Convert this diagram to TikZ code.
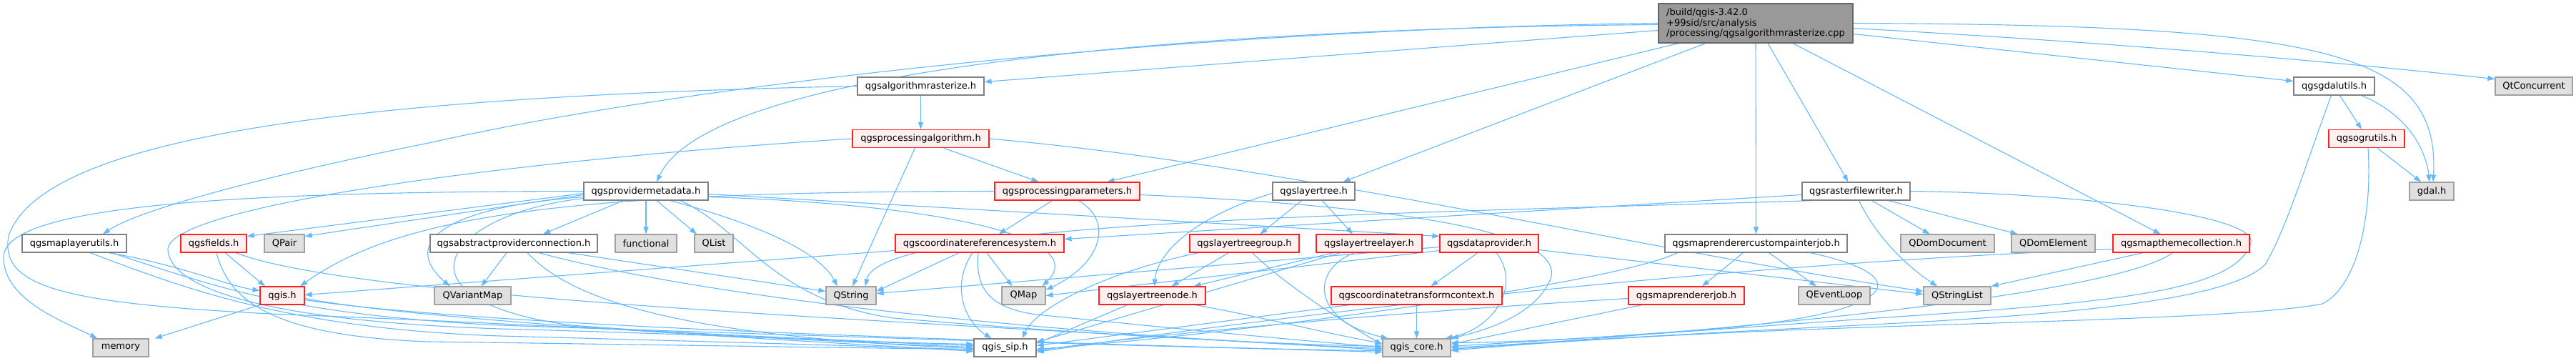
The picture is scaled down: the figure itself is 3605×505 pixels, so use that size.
\documentclass[tikz,border=0pt]{standalone}
\usepackage{fontspec}
\setmainfont{DejaVu Sans}
\usetikzlibrary{arrows.meta}
\definecolor{edgec}{HTML}{63B8FF}
\definecolor{rootfill}{HTML}{999999}
\definecolor{rootdraw}{HTML}{666666}
\definecolor{wdraw}{HTML}{808080}
\definecolor{rfill}{HTML}{FFF0F0}
\definecolor{rdraw}{HTML}{FF2020}
\definecolor{gfill}{HTML}{E0E0E0}
\definecolor{gdraw}{HTML}{A0A0A0}
\pgfdeclarelayer{bg}
\pgfsetlayers{bg,main}
\newcommand\nodefont{\fontsize{13}{14.5}\selectfont}
\tikzset{
  nd/.style={draw, rectangle, inner sep=0pt, minimum height=25pt, font=\nodefont, line width=1.2pt},
  wbox/.style={nd, draw=wdraw, fill=white},
  rbox/.style={nd, draw=rdraw, fill=rfill},
  gbox/.style={nd, draw=gdraw, fill=gfill},
  rootbox/.style={nd, draw=rootdraw, fill=rootfill, minimum height=55pt, align=left},
  edge/.style={draw=edgec, line width=1.1pt, -{Triangle[length=10pt,width=7pt]}}
}
\begin{document}
\begin{tikzpicture}[x=1pt,y=-1pt]
\useasboundingbox (0,0) rectangle (3605,505);
% row 0
\node[rootbox, minimum width=272pt] (R) at (2457,32.5) {/build/qgis-3.42.0\\+99sid/src/analysis\\/processing/qgsalgorithmrasterize.cpp};
% row 1
\node[wbox, minimum width=177pt] (alg) at (1288.5,120.5) {qgsalgorithmrasterize.h};
\node[wbox, minimum width=113pt] (gdu) at (3266.5,120.5) {qgsgdalutils.h};
\node[gbox, minimum width=108pt] (qtc) at (3546,120.5) {QtConcurrent};
% row 2
\node[rbox, minimum width=191pt] (pa) at (1288.5,194) {qgsprocessingalgorithm.h};
\node[rbox, minimum width=106pt] (ogr) at (3312,194) {qgsogrutils.h};
% row 3
\node[wbox, minimum width=174pt] (pm) at (904,267.5) {qgsprovidermetadata.h};
\node[rbox, minimum width=203pt] (pp) at (1493.5,267.5) {qgsprocessingparameters.h};
\node[wbox, minimum width=115pt] (lt) at (1838.5,267.5) {qgslayertree.h};
\node[wbox, minimum width=151pt] (rfw) at (2597.5,267.5) {qgsrasterfilewriter.h};
\node[gbox, minimum width=62pt] (gdal) at (3403,267.5) {gdal.h};
% row 4
\node[wbox, minimum width=146pt] (mlu) at (104,340.5) {qgsmaplayerutils.h};
\node[rbox, minimum width=92pt] (fld) at (299,340.5) {qgsfields.h};
\node[gbox, minimum width=56pt] (qpair) at (398,340.5) {QPair};
\node[wbox, minimum width=234pt] (apc) at (719,340.5) {qgsabstractproviderconnection.h};
\node[gbox, minimum width=86pt] (fun) at (904,340.5) {functional};
\node[gbox, minimum width=54pt] (qlist) at (999,340.5) {QList};
\node[rbox, minimum width=236pt] (crs) at (1371,340.5) {qgscoordinatereferencesystem.h};
\node[rbox, minimum width=153pt] (ltg) at (1741.5,340.5) {qgslayertreegroup.h};
\node[rbox, minimum width=148pt] (ltl) at (1916,340.5) {qgslayertreelayer.h};
\node[rbox, minimum width=138pt] (dp) at (2084,340.5) {qgsdataprovider.h};
\node[wbox, minimum width=255pt] (cpj) at (2457.5,340.5) {qgsmaprenderercustompainterjob.h};
\node[gbox, minimum width=131pt] (qdd) at (2725.5,340.5) {QDomDocument};
\node[gbox, minimum width=117pt] (qde) at (2873.5,340.5) {QDomElement};
\node[rbox, minimum width=191pt] (mtc) at (3052.5,340.5) {qgsmapthemecollection.h};
% row 5
\node[rbox, minimum width=62pt] (qgis) at (395,413.5) {qgis.h};
\node[gbox, minimum width=107pt] (qvm) at (661.5,413.5) {QVariantMap};
\node[gbox, minimum width=70pt] (qstr) at (1191,413.5) {QString};
\node[gbox, minimum width=61pt] (qmap) at (1432.5,413.5) {QMap};
\node[rbox, minimum width=149pt] (ltn) at (1612.5,413.5) {qgslayertreenode.h};
\node[rbox, minimum width=239pt] (ctc) at (1982.5,413.5) {qgscoordinatetransformcontext.h};
\node[rbox, minimum width=162pt] (mrj) at (2360,413.5) {qgsmaprendererjob.h};
\node[gbox, minimum width=100pt] (qel) at (2567,413.5) {QEventLoop};
\node[gbox, minimum width=94pt] (qsl) at (2739,413.5) {QStringList};
% row 6
\node[gbox, minimum width=78pt] (mem) at (169,486.5) {memory};
\node[wbox, minimum width=87pt] (sip) at (1406.5,486.5) {qgis\_sip.h};
\node[gbox, minimum width=95pt] (core) at (1982.5,486.5) {qgis\_core.h};

\begin{pgfonlayer}{bg}
% root
\draw[edge] ([yshift=-10pt]R.west) -- ([yshift=6pt]alg.east);
\draw[edge] ([yshift=-2pt]R.west) .. controls (1800,38) and (1000,80) .. ([xshift=15pt]pm.north);
\draw[edge] (R.west) .. controls (1700,40) and (1000,110) .. (600,200) .. controls (400,240) and (200,290) .. ([xshift=40pt]mlu.north);
\draw[edge] ([xshift=-108pt]R.south) -- ([xshift=56pt]pp.north);
\draw[edge] ([xshift=-70pt]R.south) -- ([xshift=41pt]lt.north);
\draw[edge] (R.south) -- (cpj.north);
\draw[edge] ([xshift=17pt]R.south) -- ([xshift=-11pt]rfw.north);
\draw[edge] ([xshift=52pt]R.south) -- ([xshift=-29pt]mtc.north);
\draw[edge] ([yshift=-15pt]R.east) -- ([yshift=7pt]gdu.west);
\draw[edge] ([yshift=-7pt]R.east) .. controls (3000,62) and (3300,90) .. ([yshift=10pt]qtc.west);
\draw[edge] (R.east) .. controls (3250,35) and (3415,70) .. ([xshift=2pt]gdal.north);
% alg
\draw[edge] (alg.south) -- (pa.north);
\draw[edge] (alg.west) .. controls (500,135) and (60,190) .. (12,330) .. controls (0,400) and (80,425) .. (400,440) .. controls (800,455) and (1150,478) .. ([yshift=5pt]sip.west);
% processing algorithm
\draw[edge] ([xshift=32pt]pa.south) -- ([xshift=-40pt]pp.north);
\draw[edge] ([xshift=-8pt]pa.south) -- ([xshift=2pt]qstr.north);
\draw[edge] (pa.east) .. controls (1800,230) and (2300,350) .. ([yshift=6pt]qsl.west);
\draw[edge] (pa.west) .. controls (700,225) and (230,290) .. (235,350) .. controls (240,410) and (400,450) .. (700,460) .. controls (1000,468) and (1250,480) .. ([yshift=3pt]sip.west);
% provider metadata
\draw[edge] ([xshift=-32pt]pm.south) -- ([xshift=41pt]apc.north);
\draw[edge] (pm.south) -- (fun.north);
\draw[edge] ([xshift=15pt]pm.south) -- ([xshift=-24pt]qlist.north);
\draw[edge] ([xshift=34pt]pm.south) .. controls (1010,300) and (1140,340) .. ([xshift=-19pt]qstr.north);
\draw[edge] ([xshift=48pt]pm.south) .. controls (1040,320) and (1080,420) .. (1250,445) .. controls (1550,470) and (1800,482) .. ([yshift=2pt]core.west);
\draw[edge] ([yshift=-4pt]pm.east) -- ([yshift=10pt]dp.west);
\draw[edge] ([yshift=-8pt]pm.east) .. controls (1300,285) and (1530,330) .. ([xshift=26pt]qmap.north);
\draw[edge] ([yshift=-3pt]pm.west) -- ([yshift=10pt]fld.east);
\draw[edge] ([yshift=-5pt]pm.west) -- ([yshift=10pt]qpair.east);
\draw[edge] (pm.west) .. controls (300,268) and (5,290) .. (5,360) .. controls (5,420) and (90,450) .. ([xshift=-33pt]mem.north);
\draw[edge] ([yshift=-8pt]pm.west) .. controls (620,290) and (560,340) .. ([xshift=-32pt]qvm.north);
\draw[edge] ([yshift=-10pt]pm.west) .. controls (620,300) and (540,420) .. (800,455) .. controls (1000,470) and (1250,482) .. ([yshift=1pt]sip.west);
% abstract provider connection
\draw[edge] ([xshift=-10pt]apc.south) -- ([xshift=12pt]qvm.north);
\draw[edge] ([xshift=76pt]apc.south) -- ([yshift=6pt]qstr.west);
\draw[edge] ([xshift=35pt]apc.south) .. controls (1000,420) and (1500,470) .. ([yshift=-1pt]core.west);
\draw[edge] ([xshift=19pt]apc.south) .. controls (800,420) and (950,470) .. ([yshift=-1pt]sip.west);
% fields
\draw[edge] ([xshift=16pt]fld.south) -- ([xshift=-24pt]qgis.north);
\draw[edge] ([xshift=31pt]fld.south) .. controls (500,420) and (1300,450) .. ([yshift=-3pt]core.west);
\draw[edge] ([xshift=4pt]fld.south) .. controls (320,420) and (380,470) .. (600,478) .. controls (900,482) and (1200,487) .. ([yshift=-2pt]sip.west);
% map layer utils
\draw[edge] ([xshift=48pt]mlu.south) .. controls (250,370) and (320,400) .. ([yshift=7pt]qgis.west);
\draw[edge] ([xshift=22pt]mlu.south) .. controls (250,400) and (400,460) .. (700,470) .. controls (1000,478) and (1250,485) .. ([yshift=-3pt]sip.west);
\draw[edge] ([xshift=52pt]mlu.south) .. controls (300,400) and (400,440) .. (700,455) .. controls (1300,475) and (1700,488) .. ([yshift=-4pt]core.west);
% qgis.h
\draw[edge] (qgis.south west) -- ([xshift=8pt]mem.north east);
\draw[edge] ([yshift=-4pt]qgis.east) .. controls (600,450) and (1100,475) .. ([yshift=-5pt]sip.west);
\draw[edge] ([yshift=-6pt]qgis.east) .. controls (700,460) and (1500,480) .. ([yshift=-6pt]core.west);
% crs
\draw[edge] ([yshift=-10pt]crs.west) -- ([yshift=1pt]qgis.east);
\draw[edge] ([xshift=-29pt]crs.south) -- ([yshift=6pt]qstr.east);
\draw[edge] ([xshift=10pt]crs.south) -- ([xshift=-16pt]qmap.north);
\draw[edge] ([xshift=-10pt]crs.south) .. controls (1330,400) and (1350,450) .. ([xshift=-19pt]sip.north);
\draw[edge] ([xshift=-2pt]crs.south) .. controls (1365,400) and (1380,430) .. (1450,440) .. controls (1600,455) and (1800,475) .. ([yshift=1pt]core.west);
% processing parameters
\draw[edge] ([xshift=-21pt]pp.south) -- ([xshift=27pt]crs.north);
\draw[edge] ([xshift=16pt]pp.south) .. controls (1560,310) and (1540,370) .. ([yshift=8pt]qmap.east);
\draw[edge] (pp.west) .. controls (800,268) and (560,300) .. ([xshift=25pt]qgis.north);
\draw[edge] ([yshift=-5pt]pp.east) .. controls (2000,290) and (2190,330) .. (2170,390) .. controls (2150,440) and (2080,462) .. (core.north east);
% layer tree
\draw[edge] ([xshift=-17pt]lt.south) -- ([xshift=22pt]ltg.north);
\draw[edge] ([xshift=12pt]lt.south) -- ([xshift=-23pt]ltl.north);
\draw[edge] ([yshift=-3pt]lt.west) .. controls (1680,300) and (1620,350) .. ([xshift=3pt]ltn.north);
% layer tree group
\draw[edge] ([xshift=-22pt]ltg.south) -- ([xshift=27pt]ltn.north);
\draw[edge] ([xshift=-64pt]ltg.south) .. controls (1550,380) and (1450,430) .. ([xshift=24pt]sip.north);
\draw[edge] ([xshift=11pt]ltg.south) .. controls (1800,400) and (1880,450) .. ([yshift=4pt]core.west);
% layer tree layer
\draw[edge] ([xshift=-50pt]ltl.south) -- ([xshift=58pt]ltn.north);
\draw[edge] ([xshift=-21pt]ltl.south) .. controls (1830,380) and (1840,450) .. ([xshift=-40pt]core.north);
\draw[edge] ([xshift=-40pt]ltl.south) .. controls (1750,390) and (1550,450) .. ([yshift=8pt]sip.east);
% layer tree node
\draw[edge] ([xshift=-35pt]ltn.south) -- ([yshift=6pt]sip.east);
\draw[edge] ([xshift=60pt]ltn.south) .. controls (1750,440) and (1850,465) .. ([yshift=6pt]core.west);
% data provider
\draw[edge] ([xshift=-16pt]dp.south) -- ([xshift=20pt]ctc.north);
\draw[edge] ([xshift=10pt]dp.south) .. controls (2130,400) and (2090,460) .. ([xshift=-8pt]core.north east);
\draw[edge] ([yshift=-9pt]dp.east) -- ([yshift=2pt]qsl.west);
\draw[edge] ([yshift=-5pt]dp.west) -- ([yshift=3pt]qstr.east);
\draw[edge] ([yshift=-10pt]dp.west) -- (qmap.east);
% coordinate transform context
\draw[edge] (ctc.south) -- (core.north);
\draw[edge] ([xshift=-94pt]ctc.south) -- ([yshift=3pt]sip.east);
% custom painter job
\draw[edge] ([xshift=-18pt]cpj.south) -- ([xshift=22pt]mrj.north);
\draw[edge] ([xshift=18pt]cpj.south) -- ([xshift=-25pt]qel.north);
\draw[edge] ([xshift=76pt]cpj.south) .. controls (2700,390) and (2640,440) .. (2400,460) .. controls (2200,475) and (2100,480) .. ([yshift=2pt]core.east);
\draw[edge] ([xshift=-110pt]cpj.south) .. controls (2250,400) and (1700,470) .. ([yshift=-2pt]sip.east);
% map renderer job
\draw[edge] ([xshift=-62pt]mrj.south) -- ([yshift=5pt]core.east);
\draw[edge] ([yshift=-4pt]mrj.west) .. controls (1900,440) and (1600,470) .. ([yshift=-4pt]sip.east);
% raster file writer
\draw[edge] ([xshift=22pt]rfw.south) -- ([xshift=-25pt]qdd.north);
\draw[edge] ([xshift=45pt]rfw.south) -- ([xshift=-50pt]qde.north);
\draw[edge] ([xshift=4pt]rfw.south) .. controls (2630,340) and (2680,380) .. ([xshift=-28pt]qsl.north);
\draw[edge] ([yshift=-5pt]rfw.west) -- ([yshift=6pt]crs.east);
\draw[edge] ([xshift=-60pt]rfw.south) .. controls (1900,300) and (1230,310) .. ([xshift=20pt]qstr.north);
\draw[edge] (rfw.east) .. controls (2900,270) and (3160,300) .. (3150,340) .. controls (3130,400) and (3000,420) .. (2700,440) .. controls (2400,460) and (2200,478) .. ([yshift=7pt]core.east);
% map theme collection
\draw[edge] ([xshift=-53pt]mtc.south) -- (qsl.north east);
\draw[edge] ([yshift=-8pt]mtc.west) .. controls (2400,370) and (1800,440) .. ([yshift=-6pt]sip.east);
\draw[edge] ([xshift=-12pt]mtc.south) .. controls (2950,420) and (2300,470) .. ([yshift=-2pt]core.east);
% gdal utils
\draw[edge] ([xshift=8pt]gdu.south) -- ([xshift=-7pt]ogr.north);
\draw[edge] ([xshift=38pt]gdu.south) .. controls (3370,160) and (3395,210) .. ([xshift=-3pt]gdal.north);
\draw[edge] ([xshift=-4pt]gdu.south) .. controls (3230,220) and (3200,320) .. (3170,370) .. controls (3120,420) and (2900,440) .. (2600,455) .. controls (2300,470) and (2150,480) .. (core.east);
% ogr utils
\draw[edge] ([xshift=15pt]ogr.south) -- ([xshift=-15pt]gdal.north);
\draw[edge] ([xshift=2pt]ogr.south) .. controls (3320,300) and (3300,400) .. (3250,425) .. controls (3150,445) and (2800,450) .. (2500,462) .. controls (2250,472) and (2100,484) .. ([yshift=-4pt]core.east);
\end{pgfonlayer}
\end{tikzpicture}
\end{document}
